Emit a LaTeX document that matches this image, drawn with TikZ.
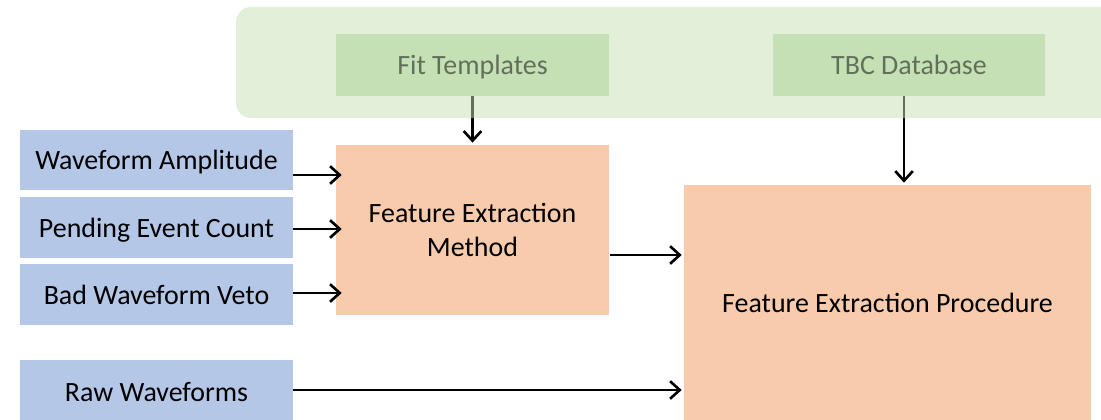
\documentclass[tikz,border=0pt]{standalone}
\usepackage{fontspec}
\setmainfont{Carlito}
\usepackage{tikz}
\usetikzlibrary{arrows.meta, positioning, calc}

\definecolor{inblue}{HTML}{B4C7E7}
\definecolor{procorange}{HTML}{F8CBAD}
\definecolor{dbgreen}{HTML}{C5E0B4}

\begin{document}
\begin{tikzpicture}[
			x=0.02cm, y=-0.02cm,
			font=\fontsize{15.9}{19.4}\selectfont,
			box/.style={rectangle, inner sep=0pt, align=center, text depth=0pt},
			input/.style={box, fill=inblue,
				minimum width=5.46cm, minimum height=1.22cm},
			process/.style={box, fill=procorange},
			source/.style={box, fill=dbgreen,
				minimum width=5.46cm, minimum height=1.24cm},
			flow/.style={-{Straight Barb[length=5.5pt, width=10pt]}, line width=1.5pt},
			]
			\useasboundingbox (0,0) rectangle (1101,419);
			\clip (0,0) rectangle (1101,419);
			
			% inputs
			\node[input] (Amp) at (156.5,160) {Waveform Amplitude};
			\node[input] (Pend) at (156.5,227.5) {Pending Event Count};
			\node[input] (Veto) at (156.5,294.5) {Bad Waveform Veto};
			\node[input, minimum height=1.28cm] (Raw) at (156.5,392) {Raw Waveforms};
			
			% processing
			\node[process, minimum width=5.46cm, minimum height=3.4cm] (Meth) at (472.5,230) {Feature Extraction\\Method};
			\node[process, minimum width=8.14cm, minimum height=4.72cm] (Proc) at (887.5,303) {Feature Extraction Procedure};
			
			% databases
			\node[source] (Fit) at (472.5,65) {Fit Templates};
			\node[source] (TBC) at (909,65) {TBC Database};
			
			\draw[flow] ([yshift=-0.3cm]Amp.east) -- ([yshift=-0.3cm, xshift=0.12cm]Amp.east -| Meth.west);
			\draw[flow] ([yshift=-0.03cm]Pend.east) -- ([yshift=-0.03cm, xshift=0.12cm]Pend.east -| Meth.west);
			\draw[flow] ([yshift=0.03cm]Veto.east) -- ([yshift=0.03cm, xshift=0.12cm]Veto.east -| Meth.west);
			\draw[flow] ([yshift=-0.5cm, xshift=0.02cm]Meth.east) -- ([yshift=-0.5cm, xshift=-0.04cm]Meth.east -| Proc.west);
			\draw[flow] ([yshift=0.04cm]Raw.east) -- ([yshift=0.04cm, xshift=-0.04cm]Raw.east -| Proc.west);
			\draw[flow] (Fit.south) -- ([yshift=0.04cm]Meth.north);
			\draw[flow] ([xshift=-0.1cm]TBC.south) -- ([xshift=-0.1cm, yshift=0.04cm]TBC.south |- Proc.north);
			
			% translucent panel over the databases
			\fill[dbgreen, fill opacity=0.5, rounded corners=0.3cm] (236,7) rectangle (1130,118);
		\end{tikzpicture}
\end{document}
